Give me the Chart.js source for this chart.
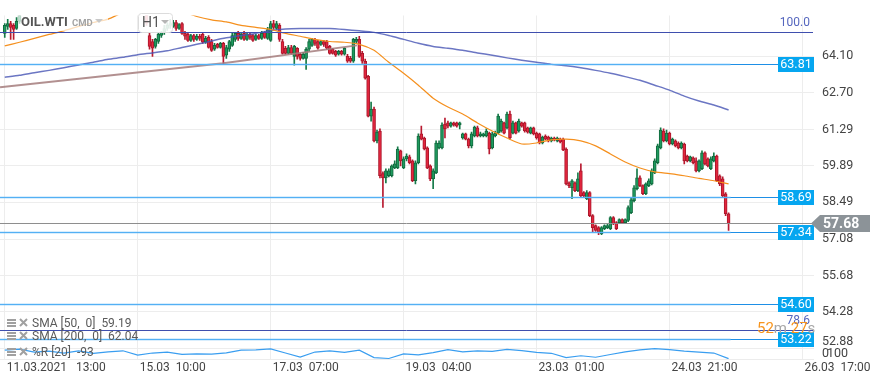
<!DOCTYPE html>
<html><head><meta charset="utf-8">
<script src="https://cdn.jsdelivr.net/npm/chart.js@4.4.1/dist/chart.umd.min.js"></script>
<style>html,body{margin:0;padding:0;background:#fff;overflow:hidden}#wrap{width:882px;height:385px}</style>
</head><body><div id="wrap"><canvas id="c" width="882" height="385"></canvas></div>
<script>
// ---------- DATA ----------
const xTickIndex = [0, 45, 90, 135, 180, 225, 270];
const xTickLabels = ['11.03.2021   13:00', '15.03  10:00', '17.03  07:00', '19.03  04:00', '23.03  01:00', '24.03  21:00', '26.03  17:00'];
const yTicks = [64.10, 62.70, 61.29, 59.89, 58.49, 57.08, 55.68, 54.28, 52.88];
const HIDDEN = Array(42).fill(null); // bars 6..47 lie above the visible range
const open = [64.98,65.25,65.36,65.29,65.17,65.44, ...HIDDEN,
65.74,64.90,64.67,64.48,64.67,64.90,65.02,65.17,65.29,65.25,
65.40,65.17,65.36,64.98,64.94,64.71,64.90,64.75,64.87,64.94,
64.64,64.83,64.67,64.37,64.56,64.44,64.60,64.14,64.37,64.52,
64.75,64.98,64.79,64.98,64.75,64.94,64.90,64.75,64.90,64.79,
65.02,64.79,64.71,65.36,65.17,65.29,64.67,64.41,64.21,64.44,
64.10,64.41,64.18,64.02,64.02,64.37,64.52,64.75,64.67,64.56,
64.67,64.67,64.48,64.37,64.29,64.18,64.29,64.18,64.10,64.02,
63.91,64.67,64.75,64.21,63.91,63.33,61.80,62.07,60.85,61.23,
59.59,59.43,59.51,59.51,59.81,59.81,60.47,59.81,60.16,60.24,
60.08,59.32,60.01,61.12,60.96,60.58,59.89,59.39,59.62,60.58,
60.58,61.50,61.54,61.42,61.54,61.54,61.46,60.96,61.12,60.92,
60.66,61.04,61.35,61.04,61.04,61.04,61.15,60.58,61.04,61.15,
61.23,61.54,61.35,61.88,61.15,61.54,61.23,61.54,61.54,61.35,
61.15,61.35,61.15,61.12,60.77,61.04,61.00,60.85,60.96,60.85,
60.92,60.92,60.54,59.24,59.05,59.24,58.94,59.70,58.86,58.63,
58.86,57.98,57.60,57.52,57.29,57.48,57.52,57.48,57.90,57.71,
57.71,57.83,57.71,57.79,58.09,58.55,59.01,59.43,59.13,58.82,
59.13,59.20,59.62,60.01,60.58,61.23,60.85,61.15,60.73,60.85,
60.77,60.58,60.73,60.27,60.08,60.20,60.08,59.70,59.78,60.39,
60.16,59.78,60.08,60.27,59.51,59.39,58.82,58.05];
const close = [65.29,65.36,65.21,65.13,65.44,65.67, ...HIDDEN,
65.36,64.48,64.41,64.75,64.94,65.02,65.17,65.29,65.36,65.40,
65.17,65.32,64.98,64.87,64.71,64.90,64.75,64.87,64.79,64.64,
64.79,64.44,64.33,64.52,64.44,64.60,64.10,64.44,64.67,64.90,
64.98,64.79,64.94,64.75,64.94,64.83,64.71,64.90,64.79,64.98,
64.83,65.13,65.36,65.21,65.36,64.75,64.21,64.21,64.44,64.21,
64.48,64.10,64.02,64.18,64.37,64.67,64.75,64.60,64.41,64.67,
64.56,64.41,64.21,64.21,64.14,64.29,64.18,64.41,63.91,63.91,
64.75,64.75,64.10,63.91,63.26,61.80,62.07,60.85,61.19,59.51,
59.43,59.70,59.70,59.89,59.97,60.54,60.08,60.16,60.27,60.01,
59.32,60.01,61.04,60.92,60.54,59.81,59.39,59.70,60.77,60.77,
61.46,61.31,61.42,61.54,61.46,61.42,61.54,61.12,60.92,60.66,
61.12,61.38,61.04,61.12,61.12,61.23,60.54,61.12,61.15,61.80,
61.61,61.15,61.88,60.96,61.54,61.15,61.61,61.42,61.23,61.19,
61.35,61.12,60.96,60.77,61.00,60.92,60.85,60.96,60.89,60.96,
60.81,60.50,59.20,59.13,59.32,58.94,59.39,58.74,58.74,58.86,
57.98,57.52,57.41,57.33,57.52,57.60,57.60,57.90,57.67,57.48,
57.83,57.71,57.83,58.29,58.59,59.05,59.43,59.13,58.82,59.20,
59.32,59.70,60.08,60.66,61.27,60.85,61.15,60.73,60.92,60.66,
60.58,60.77,60.08,60.08,60.24,60.01,59.70,60.08,60.39,59.97,
59.89,60.16,60.27,59.32,59.20,58.74,58.05,57.68];
const high = [65.36,65.52,65.44,65.36,65.59,65.82, ...HIDDEN,
65.90,64.98,64.75,64.79,64.98,65.06,65.29,65.40,65.52,65.48,
65.48,65.36,65.40,65.06,65.02,64.94,64.94,64.94,64.94,65.02,
64.87,64.90,64.75,64.60,64.60,64.64,64.64,64.52,64.71,64.98,
65.02,65.06,65.02,65.06,65.02,64.98,64.94,64.94,64.94,65.06,
65.06,65.21,65.44,65.48,65.44,65.36,64.75,64.48,64.52,64.52,
64.52,64.44,64.21,64.25,64.44,64.75,64.79,64.79,64.71,64.71,
64.71,64.71,64.52,64.41,64.33,64.33,64.33,64.44,64.18,64.10,
64.79,64.83,64.87,64.29,63.99,63.37,62.34,62.15,61.27,61.31,
59.66,59.78,59.78,59.93,60.08,60.62,60.50,60.24,60.35,60.31,
60.12,60.08,61.12,61.42,61.00,60.62,59.93,59.78,60.85,60.85,
61.54,61.73,61.61,61.57,61.57,61.57,61.57,61.15,61.15,60.96,
61.19,61.42,61.42,61.19,61.15,61.31,61.19,61.19,61.23,61.88,
61.69,61.57,61.96,62.00,61.61,61.57,61.69,61.57,61.57,61.38,
61.38,61.38,61.19,61.15,61.04,61.08,61.04,61.00,61.00,61.00,
60.96,60.96,60.58,59.28,59.36,59.28,59.62,59.97,58.90,58.94,
58.90,58.02,57.63,57.56,57.56,57.63,57.67,57.94,57.94,57.75,
57.86,57.86,57.86,58.36,58.67,59.13,59.78,59.51,59.16,59.24,
59.39,59.78,60.16,60.73,61.35,61.31,61.27,61.19,60.96,60.89,
60.81,60.81,60.77,60.31,60.27,60.24,60.20,60.12,60.47,60.43,
60.20,60.24,60.39,60.31,59.55,59.47,58.86,58.09];
const low = [64.83,65.13,64.75,64.75,65.13,65.36, ...HIDDEN,
65.29,64.37,64.10,64.41,64.60,64.83,64.94,65.09,65.17,65.21,
65.09,65.13,64.94,64.75,64.67,64.67,64.67,64.71,64.71,64.60,
64.60,64.41,64.29,64.33,64.41,64.41,63.83,64.02,64.29,64.48,
64.67,64.71,64.75,64.71,64.71,64.75,64.67,64.71,64.75,64.75,
64.79,64.75,64.67,65.13,65.13,64.67,64.18,64.18,64.18,64.18,
63.76,63.99,63.95,63.99,63.60,64.29,64.48,64.52,64.37,64.52,
64.48,64.37,64.18,64.18,64.10,64.14,64.14,64.14,63.87,63.87,
63.87,64.60,64.06,63.83,63.22,61.77,61.61,60.81,60.77,59.43,
58.29,59.24,59.47,59.47,59.78,59.78,59.89,59.78,60.08,59.97,
59.28,59.20,59.97,60.89,60.50,59.78,59.32,59.01,59.59,60.54,
60.54,60.96,61.35,61.38,61.42,61.38,61.31,60.92,60.89,60.58,
60.58,61.00,61.00,61.00,61.00,61.00,60.35,60.54,61.00,61.12,
61.19,61.12,61.31,60.92,61.12,61.12,61.19,61.38,61.19,61.15,
61.12,61.08,60.92,60.73,60.73,60.89,60.81,60.81,60.85,60.81,
60.77,60.47,59.16,59.05,58.63,58.90,58.90,58.71,58.67,58.59,
57.94,57.33,57.37,57.25,57.25,57.44,57.48,57.44,57.63,57.44,
57.67,57.67,57.67,57.75,58.05,58.51,58.97,59.09,58.78,58.78,
59.09,59.16,59.59,59.97,60.54,60.81,60.81,60.70,60.70,60.62,
60.54,60.54,59.97,60.04,60.04,59.97,59.66,59.66,59.74,59.93,
59.85,59.74,60.04,59.28,59.13,58.71,57.98,57.41];
// indicator series, one value every SAMPLE_STEP bars starting at bar 0
const SAMPLE_STEP = 5;
const sma50 = [64.50,64.64,64.79,64.94,65.08,65.25,65.40,65.53,65.78,65.90,65.97,65.94,65.82,65.63,65.50,65.42,65.29,65.21,65.13,64.98,64.87,64.75,64.67,64.64,64.56,64.33,63.87,63.45,62.99,62.49,62.15,61.88,61.54,61.23,60.96,60.73,60.77,60.89,60.92,60.85,60.66,60.35,60.04,59.81,59.66,59.59,59.51,59.41,59.32,59.20];
const sma200 = [63.30,63.37,63.47,63.56,63.66,63.77,63.87,63.99,64.06,64.16,64.23,64.31,64.44,64.56,64.69,64.81,64.90,64.98,65.09,65.15,65.17,65.17,65.17,65.13,65.08,65.02,64.90,64.75,64.60,64.48,64.41,64.33,64.23,64.14,64.04,63.95,63.87,63.79,63.74,63.66,63.56,63.45,63.32,63.18,62.99,62.80,62.57,62.38,62.23,62.04];
const wpr = [-24,-16,-40,-32,-48,-30,-50,-38,-30,-65,-48,-40,-58,-55,-56,-46,-24,-22,-14,-48,-80,-40,-30,-42,-25,-85,-92,-55,-62,-45,-20,-38,-30,-35,-18,-28,-42,-50,-85,-70,-82,-60,-38,-22,-12,-20,-32,-40,-48,-93];
const trendIdx = [-1.6, 73.9, 119.2];
const trendVal = [62.91, 63.83, 64.52];
const supportLevels = [63.81, 58.69, 57.34, 54.60, 53.22];
const fibLevels = [{value: 65.02, label: '100.0'}, {value: 53.58, label: '78.6'}];
const lastPrice = 57.68;
const legendRows = ['SMA [50,  0]  59.19', 'SMA [200,  0]  62.04', '%R [20]  -93'];

// ---------- BUILD ----------
const FONT = 'Roboto';
Chart.defaults.font.family = FONT;
const bodies = [], wicks = [], bodyFill = [], bodyLine = [], wickCol = [];
for (let i = 0; i < open.length; i++) {
  if (open[i] == null) continue;
  const up = close[i] >= open[i];
  bodies.push({x: i, y: [open[i], close[i]]});
  wicks.push({x: i, y: [low[i], high[i]]});
  bodyFill.push(up ? '#1E9A5E' : '#E3263E');
  bodyLine.push(up ? '#12693E' : '#A9172B');
  wickCol.push(up ? '#157A48' : '#B81A30');
}
const samp = arr => arr.map((v, k) => ({x: k * SAMPLE_STEP, y: v}));

const overlay = {
  id: 'overlay',
  afterDatasetsDraw(chart) {
    const {ctx, chartArea: ca, scales: {x, y}} = chart;
    const lastX = x.getPixelForValue(open.length - 1) + 2;
    const R = ca.right - 1;
    const hl = (x1, x2, py, c, w) => { ctx.beginPath(); ctx.strokeStyle = c; ctx.lineWidth = w; ctx.moveTo(x1, py); ctx.lineTo(x2, py); ctx.stroke(); };
    ctx.save();
    fibLevels.forEach(f => hl(0, R, Math.round(y.getPixelForValue(f.value)) + 0.5, '#3F4FAE', 1));
    supportLevels.forEach(v => {
      const py = Math.round(y.getPixelForValue(v)) + 0.5;
      hl(0, R, py, '#1E8FE6', 1);
      hl(0, lastX, py, 'rgba(90,180,245,0.9)', 1.6);
    });
    hl(0, R, Math.round(y.getPixelForValue(lastPrice)) + 0.5, '#8E8E8E', 1);
    ctx.restore();
  },
  afterDraw(chart) {
    const {ctx, chartArea: ca, scales: {y}} = chart;
    ctx.save();
    ctx.textBaseline = 'middle';
    ctx.font = '12.5px ' + FONT;
    ctx.textAlign = 'center';
    supportLevels.forEach(v => {
      const py = Math.round(y.getPixelForValue(v));
      ctx.fillStyle = '#06A6F0';
      ctx.fillRect(778, py - 7, 36, 15);
      ctx.fillStyle = '#FFFFFF';
      ctx.fillText(v.toFixed(2), 796, py + 1);
    });
    const lp = Math.round(y.getPixelForValue(lastPrice)) + 0.5;
    ctx.fillStyle = '#8C9398';
    ctx.beginPath();
    ctx.moveTo(811, lp); ctx.lineTo(820, lp - 8.5); ctx.lineTo(870, lp - 8.5); ctx.lineTo(870, lp + 8.5); ctx.lineTo(820, lp + 8.5); ctx.closePath(); ctx.fill();
    ctx.fillStyle = '#FFFFFF';
    ctx.font = 'bold 14px ' + FONT;
    ctx.textAlign = 'left';
    ctx.fillText(lastPrice.toFixed(2), 823, lp + 1);
    ctx.font = '12px ' + FONT;
    ctx.fillStyle = '#5566BE';
    ctx.textAlign = 'right';
    ctx.fillText(fibLevels[0].label, 810, 23);
    ctx.fillText(fibLevels[1].label, 810, 321);
    ctx.textAlign = 'left';
    ctx.font = '15px ' + FONT;
    let tx = 757;
    [['52', '#F7941D'], ['m ', '#A8A8A8'], ['27', '#F7941D'], ['s', '#A8A8A8']].forEach(([t, c]) => {
      ctx.fillStyle = c; ctx.fillText(t, tx, 329); tx += ctx.measureText(t).width;
    });
    ctx.font = '12.5px ' + FONT;
    ctx.fillStyle = '#444';
    ctx.fillText('52.88', 822, 342);
    ctx.fillText('100', 827, 354);
    ctx.fillText('0', 822, 354);
    ctx.strokeStyle = '#ECECEC'; ctx.lineWidth = 1;
    ctx.beginPath(); ctx.moveTo(0, 359.5); ctx.lineTo(ca.right, 359.5); ctx.stroke();
    const rowsY = [323, 336, 352];
    legendRows.forEach((t, k) => {
      const yy = rowsY[k];
      ctx.fillStyle = '#A0A0A0';
      ctx.fillRect(7, yy - 4, 9, 2); ctx.fillRect(7, yy - 1, 9, 2); ctx.fillRect(7, yy + 2, 9, 2);
      ctx.strokeStyle = '#A0A0A0'; ctx.lineWidth = 2;
      ctx.beginPath(); ctx.moveTo(20, yy - 4); ctx.lineTo(27, yy + 3); ctx.moveTo(27, yy - 4); ctx.lineTo(20, yy + 3); ctx.stroke();
      ctx.fillStyle = '#5A5A5A';
      ctx.font = '12px ' + FONT;
      ctx.fillText(t, 32, yy + 0.5);
    });
    ctx.fillStyle = 'rgba(255,255,255,0.7)';
    ctx.fillRect(18, 14, 90, 17);
    ctx.fillStyle = '#555';
    ctx.font = 'bold 13px ' + FONT;
    ctx.fillText('OIL.WTI', 21, 23);
    ctx.fillStyle = '#A3A3A3';
    ctx.font = 'bold 9.5px ' + FONT;
    ctx.fillText('CMD', 72, 24);
    const tri = (cx, cy, c) => { ctx.fillStyle = c; ctx.beginPath(); ctx.moveTo(cx - 4, cy - 2); ctx.lineTo(cx + 4, cy - 2); ctx.lineTo(cx, cy + 2); ctx.closePath(); ctx.fill(); };
    tri(99, 21, '#C8C8C8');
    ctx.fillStyle = 'rgba(255,255,255,0.88)';
    ctx.strokeStyle = '#DCDCDC'; ctx.lineWidth = 1;
    ctx.beginPath(); ctx.roundRect(138.5, 13.5, 34, 19, 3); ctx.fill(); ctx.stroke();
    ctx.fillStyle = '#555';
    ctx.font = '14px ' + FONT;
    ctx.fillText('H1', 142, 23.5);
    tri(165, 22, '#B5B5B5');
    ctx.restore();
  }
};

new Chart(document.getElementById('c'), {
  type: 'bar',
  data: {datasets: [
    {type: 'line', data: samp(sma50), borderColor: '#F5901E', borderWidth: 1.2, pointRadius: 0, tension: 0.2, order: 0},
    {type: 'line', data: samp(sma200), borderColor: 'rgba(70,84,180,0.8)', borderWidth: 1.5, pointRadius: 0, tension: 0.2, order: 0},
    {type: 'line', data: trendIdx.map((v, k) => ({x: v, y: trendVal[k]})), borderColor: 'rgba(165,125,125,0.85)', borderWidth: 2, pointRadius: 0, order: 0},
    {type: 'line', data: samp(wpr), yAxisID: 'y2', borderColor: '#3A9EF0', borderWidth: 1.2, pointRadius: 0, order: 0},
    {type: 'bar', data: bodies, backgroundColor: bodyFill, borderColor: bodyLine, borderWidth: 1, borderSkipped: false, barThickness: 3, grouped: false, order: 1},
    {type: 'bar', data: wicks, backgroundColor: wickCol, borderWidth: 0, barThickness: 1, grouped: false, order: 2}
  ]},
  options: {
    responsive: false, animation: false, maintainAspectRatio: false,
    layout: {padding: {top: 14, left: 0, right: 0, bottom: 0}},
    plugins: {legend: {display: false}, tooltip: {enabled: false}},
    scales: {
      x: {
        type: 'linear', min: -1.608, max: 273.91, offset: false,
        afterBuildTicks: s => { s.ticks = xTickIndex.map(v => ({value: v})); },
        afterFit: s => { s.height = 25; s.paddingLeft = 0; s.paddingRight = 0; },
        ticks: {callback: v => xTickLabels[xTickIndex.indexOf(v)], align: 'start', labelOffset: 2, padding: 1, autoSkip: false, maxRotation: 0, color: '#444', font: {size: 12}},
        grid: {color: '#EDEDED', drawTicks: false, offset: false},
        border: {display: false}
      },
      y: {
        position: 'right', min: 52.432, max: 65.668,
        afterBuildTicks: s => { s.ticks = yTicks.map(v => ({value: v})); },
        afterFit: s => { s.width = 68; },
        ticks: {callback: v => (v === 52.88 ? '' : v.toFixed(2)), padding: 8, color: '#444', font: {size: 12.5}},
        grid: {color: '#EDEDED', drawTicks: false},
        border: {display: false}
      },
      y2: {display: false, min: -104, max: 2664}
    }
  },
  plugins: [overlay]
});
</script>
</body></html>
